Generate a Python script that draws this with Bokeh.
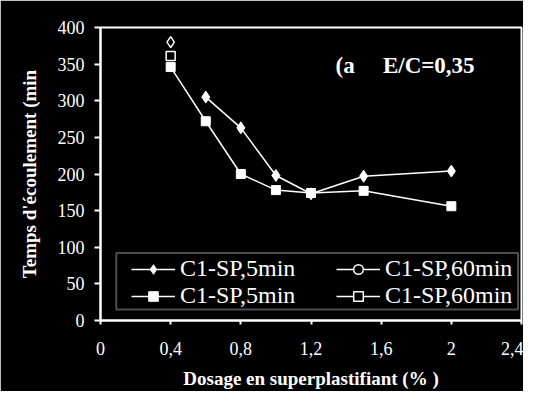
from bokeh.plotting import figure
from bokeh.models import (FixedTicker, Legend, LegendItem, Label, BoxAnnotation)
from bokeh.embed import file_html
from bokeh.resources import INLINE

# ---- data ----
x_5min_a = [0.6, 0.8, 1.0, 1.2, 1.5, 2.0]
y_5min_a = [305, 263, 198, 173, 197, 204]
x_5min_b = [0.4, 0.6, 0.8, 1.0, 1.2, 1.5, 2.0]
y_5min_b = [346, 272, 200, 178, 174, 177, 156]
x_60min_a = [0.4]
y_60min_a = [380]
x_60min_b = [0.4]
y_60min_b = [361]
labels = ["C1-SP,5min", "C1-SP,5min", "C1-SP,60min", "C1-SP,60min"]
x_ticks = [0, 0.4, 0.8, 1.2, 1.6, 2.0, 2.4]
x_tick_labels = ["0", "0,4", "0,8", "1,2", "1,6", "2", "2,4"]
y_ticks = [0, 50, 100, 150, 200, 250, 300, 350, 400]
annotation_a = "(a"
annotation_b = "E/C=0,35"
x_title = "Dosage en superplastifiant (% )"
y_title = "Temps d'écoulement (min"

FONT = "Liberation Serif"
W = "white"

p = figure(width=523, height=391, output_backend="svg", toolbar_location=None,
           x_range=(0, 2.4), y_range=(0, 400),
           min_border_left=100, min_border_right=2, min_border_top=27, min_border_bottom=69)
p.background_fill_color = "black"
p.border_fill_color = "black"
p.outline_line_color = W
p.outline_line_width = 2
p.grid.visible = False

for ax in (p.xaxis[0], p.yaxis[0]):
    ax.axis_line_color = W
    ax.axis_line_width = 2
    ax.major_tick_line_color = W
    ax.major_tick_line_width = 2
    ax.minor_tick_line_color = None
    ax.major_tick_in = 0
    ax.major_label_text_color = W
    ax.major_label_text_font = FONT
    ax.major_label_text_font_size = "18px"
    ax.axis_label_text_color = W
    ax.axis_label_text_font = FONT
    ax.axis_label_text_font_style = "bold"

p.xaxis.ticker = FixedTicker(ticks=x_ticks)
p.xaxis.major_label_overrides = {t: l for t, l in zip(x_ticks, x_tick_labels)}
p.xaxis.major_tick_out = 4
p.xaxis.major_label_standoff = 17
p.xaxis.axis_label = x_title
p.xaxis.axis_label_text_font_size = "19px"
p.xaxis.axis_label_standoff = 10

p.yaxis.ticker = FixedTicker(ticks=y_ticks)
p.yaxis.major_tick_out = 6
p.yaxis.major_label_standoff = 10
p.yaxis.axis_label = y_title
p.yaxis.axis_label_text_font_size = "19px"
p.yaxis.axis_label_standoff = 15

# series
l1 = p.line(x_5min_a, y_5min_a, line_color=W, line_width=1.5)
m1 = p.scatter(x_5min_a, y_5min_a, marker="diamond", size=12, fill_color=W, line_color=W)
l2 = p.line(x_5min_b, y_5min_b, line_color=W, line_width=1.5)
m2 = p.scatter(x_5min_b, y_5min_b, marker="square", size=9, fill_color=W, line_color=W)
l3 = p.line(x_60min_a, y_60min_a, line_color=W, line_width=1.5)
m3 = p.scatter(x_60min_a, y_60min_a, marker="diamond", size=11, fill_color="black", line_color=W, line_width=1.5)
m3_leg = p.scatter(x_60min_a, y_60min_a, marker="circle", size=0, fill_color="black", line_color=W, line_width=1.5)
l4 = p.line(x_60min_b, y_60min_b, line_color=W, line_width=1.5)
m4 = p.scatter(x_60min_b, y_60min_b, marker="square", size=9, fill_color="black", line_color=W, line_width=1.5)

# legend box
p.add_layout(BoxAnnotation(left=0.09, right=2.38, bottom=15, top=92,
                           fill_color="black", fill_alpha=1, line_color=W, line_width=2,
                           level="underlay"))

def mk_legend(items, loc):
    lg = Legend(items=items, location=loc, orientation="vertical",
                background_fill_alpha=0, border_line_color=None,
                padding=0, margin=0, spacing=0,
                glyph_width=44, glyph_height=24, label_standoff=5,
                label_text_color=W, label_text_font=FONT, label_text_font_size="24px")
    p.add_layout(lg, "center")

mk_legend([LegendItem(label=labels[0], renderers=[l1, m1]),
           LegendItem(label=labels[1], renderers=[l2, m2])], (31, 11))
mk_legend([LegendItem(label=labels[2], renderers=[l3, m3_leg]),
           LegendItem(label=labels[3], renderers=[l4, m4])], (236, 11))

p.add_layout(Label(x=1.34, y=348, text=annotation_a, text_color=W, text_font=FONT,
                   text_font_style="bold", text_font_size="23px", text_baseline="middle"))
p.add_layout(Label(x=1.61, y=348, text=annotation_b, text_color=W, text_font=FONT,
                   text_font_style="bold", text_font_size="23px", text_baseline="middle"))

open("out.html", "w").write(file_html(p, INLINE))
